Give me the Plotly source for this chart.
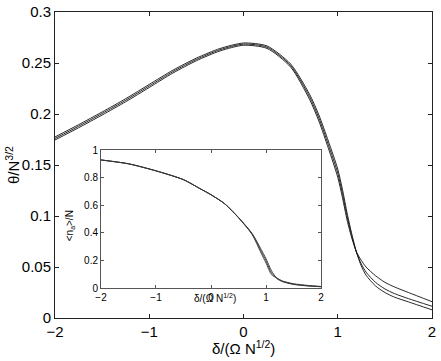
import plotly.graph_objects as go

# ---- main panel data ----
x_main = [-2, -1.75, -1.5, -1.25, -1, -0.75, -0.5, -0.25, 0, 0.25, 0.5, 0.7, 0.8, 0.9,
          1.0, 1.05, 1.1, 1.15, 1.2, 1.25, 1.3, 1.4, 1.5, 1.6, 1.75, 2.0]
theta_a = [0.1775, 0.1895, 0.202, 0.215, 0.229, 0.2429, 0.2548, 0.2642, 0.2696, 0.2667,
           0.249, 0.2195, 0.199, 0.1735, 0.146, 0.126, 0.1025, 0.082, 0.064, 0.051,
           0.042, 0.0315, 0.025, 0.0205, 0.0158, 0.008]
theta_b = [0.176, 0.188, 0.2005, 0.2135, 0.2275, 0.2415, 0.2535, 0.263, 0.2685, 0.2655,
           0.2475, 0.217, 0.196, 0.170, 0.142, 0.122, 0.099, 0.080, 0.064, 0.053,
           0.045, 0.035, 0.0285, 0.024, 0.019, 0.0115]
theta_c = [0.1745, 0.1865, 0.199, 0.212, 0.226, 0.2401, 0.2522, 0.2618, 0.2674, 0.2643,
           0.246, 0.2145, 0.193, 0.1665, 0.138, 0.118, 0.0955, 0.078, 0.0645, 0.0565,
           0.050, 0.0415, 0.035, 0.0305, 0.025, 0.016]

# ---- inset data ----
x_ins = [-2, -1.5, -1, -0.5, -0.2, 0, 0.25, 0.5, 0.75, 0.9, 1.0, 1.1, 1.2, 1.3, 1.5, 1.75, 2]
na_a = [0.928, 0.90, 0.849, 0.785, 0.72, 0.676, 0.61, 0.511, 0.394, 0.288, 0.213, 0.125,
        0.068, 0.046, 0.026, 0.015, 0.009]
na_b = [0.928, 0.90, 0.849, 0.785, 0.72, 0.676, 0.61, 0.51, 0.39, 0.275, 0.197, 0.11,
        0.07, 0.048, 0.028, 0.017, 0.010]
na_c = [0.928, 0.90, 0.849, 0.785, 0.72, 0.676, 0.61, 0.509, 0.386, 0.262, 0.181, 0.097,
        0.072, 0.051, 0.031, 0.019, 0.011]

main_ticks_x = [-2, -1, 0, 1, 2]
main_ticks_y = [0, 0.05, 0.1, 0.15, 0.2, 0.25, 0.3]
ins_ticks_y = [0, 0.2, 0.4, 0.6, 0.8, 1]

fig = go.Figure()
for ys in (theta_a, theta_b, theta_c):
    fig.add_trace(go.Scatter(x=x_main, y=ys, mode="lines",
                             line=dict(color="#111", width=0.9, shape="spline", smoothing=0.7),
                             xaxis="x", yaxis="y", showlegend=False))
for ys in (na_a, na_b, na_c):
    fig.add_trace(go.Scatter(x=x_ins, y=ys, mode="lines",
                             line=dict(color="#333", width=0.9, shape="spline", smoothing=0.7),
                             xaxis="x2", yaxis="y2", showlegend=False))

font = "Liberation Sans, Arial, sans-serif"
axcol = "#222"

common = dict(showgrid=False, zeroline=False, showline=True, mirror="ticks",
              ticks="inside", automargin=False)

fig.update_layout(
    width=441, height=361,
    margin=dict(l=55, r=9, t=12, b=43),
    paper_bgcolor="white", plot_bgcolor="white",
    font=dict(family=font, color="black"),
    xaxis=dict(range=[-2, 2], tickvals=main_ticks_x, ticklen=4, tickcolor=axcol,
               linecolor=axcol, linewidth=1, tickfont=dict(size=15), domain=[0, 1],
               **common),
    yaxis=dict(range=[0, 0.3], tickvals=main_ticks_y, ticklen=4, tickcolor=axcol,
               linecolor=axcol, linewidth=1, tickfont=dict(size=15), domain=[0, 1],
               **common),
    xaxis2=dict(range=[-2, 2], tickvals=main_ticks_x, ticklen=3, tickcolor="#555",
                linecolor="#555", linewidth=1, tickfont=dict(size=10),
                domain=[0.122, 0.7056], anchor="y2", **common),
    yaxis2=dict(range=[0, 1], tickvals=ins_ticks_y, ticklen=3, tickcolor="#555",
                linecolor="#555", linewidth=1, tickfont=dict(size=10),
                domain=[0.098, 0.549], anchor="x2", **common),
    annotations=[
        dict(text="δ/(Ω N<sup>1/2</sup>)", xref="paper", yref="paper", x=0.5, y=-0.095,
             xanchor="center", yanchor="middle", showarrow=False, font=dict(size=15)),
        dict(text="θ/N<sup>3/2</sup>", xref="paper", yref="paper", x=-0.114, y=0.5,
             xanchor="center", yanchor="middle", textangle=-90, showarrow=False,
             font=dict(size=15)),
        dict(text="δ/(Ω N<sup>1/2</sup>)", xref="paper", yref="paper", x=0.425, y=0.065,
             xanchor="center", yanchor="middle", showarrow=False, font=dict(size=10)),
        dict(text="&lt;n<sub>a</sub>&gt;/N", xref="paper", yref="paper", x=0.04, y=0.30,
             xanchor="center", yanchor="middle", textangle=-90, showarrow=False,
             font=dict(size=10)),
    ],
)

fig.write_html("out.html", config={"displayModeBar": False},
               post_script="document.body.style.margin='0';document.body.style.overflow='hidden';")
